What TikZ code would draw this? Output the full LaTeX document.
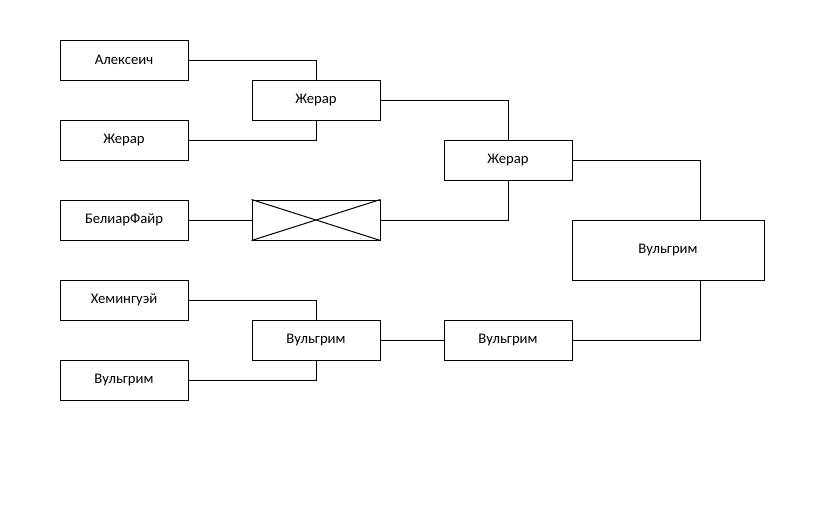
\documentclass[tikz,border=0pt]{standalone}
\usepackage{fontspec}
\setmainfont{Carlito}
\begin{document}
\begin{tikzpicture}[x=0.75pt,y=-0.75pt,
  box/.style={draw,line width=0.75pt,minimum width=96pt,minimum height=30pt,inner sep=0pt,font=\fontsize{11pt}{13pt}\selectfont},
  bigbox/.style={box,minimum width=144pt,minimum height=45pt},
  conn/.style={draw,line width=0.75pt}]
\useasboundingbox (0,0) rectangle (839,521);
\node[box] (a1) at (124,60) {Алексеич};
\node[box] (a2) at (124,140) {Жерар};
\node[box] (a3) at (124,220) {БелиарФайр};
\node[box] (a4) at (124,300) {Хемингуэй};
\node[box] (a5) at (124,380) {Вульгрим};
\node[box] (b1) at (316,100) {Жерар};
\node[box] (b2) at (316,220) {};
\node[box] (b3) at (316,340) {Вульгрим};
\node[box] (c1) at (508,160) {Жерар};
\node[box] (c2) at (508,340) {Вульгрим};
\node[bigbox] (d1) at (668,250) {Вульгрим};
\draw[line width=0.75pt] (b2.north west) -- (b2.south east) (b2.south west) -- (b2.north east);
\draw[conn] (a1.east) -| (b1.north);
\draw[conn] (a2.east) -| (b1.south);
\draw[conn] (a3.east) -- (b2.west);
\draw[conn] (a4.east) -| (b3.north);
\draw[conn] (a5.east) -| (b3.south);
\draw[conn] (b1.east) -| (c1.north);
\draw[conn] (b2.east) -| (c1.south);
\draw[conn] (b3.east) -- (c2.west);
\draw[conn] (c1.east) -| ([xshift=32*0.75pt]d1.north);
\draw[conn] (c2.east) -| ([xshift=32*0.75pt]d1.south);
\end{tikzpicture}
\end{document}
